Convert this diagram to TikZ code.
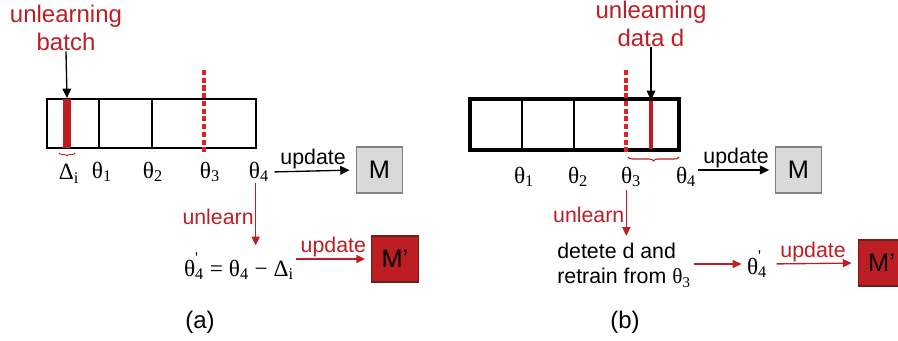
\documentclass[tikz,border=0pt]{standalone}
\usepackage{fontspec}
\setmainfont{Liberation Sans}
\newfontfamily\serfont{Liberation Serif}
\usetikzlibrary{arrows.meta,decorations.pathreplacing}
\definecolor{unred}{RGB}{188,30,36}
\definecolor{cutred}{RGB}{232,30,38}
\definecolor{mgray}{RGB}{217,217,217}
\definecolor{mgrayline}{RGB}{128,128,128}
\definecolor{mredline}{RGB}{110,30,30}
\newcommand{\thsub}[1]{{\serfont θ\textsubscript{#1}}}
\newcommand{\thpr}{{\serfont θ\rlap{\raisebox{0.45ex}{\textsuperscript{'}}}\textsubscript{4}}}

\begin{document}
\begin{tikzpicture}[x=0.75pt,y=0.75pt,yscale=-1,xscale=1,
  toplbl/.style={text=unred,font=\fontsize{18}{21.6}\selectfont,align=center,inner sep=0pt},
  thlbl/.style={font=\serfont\fontsize{17.5}{20}\selectfont,inner sep=1pt},
  updlbl/.style={font=\fontsize{16}{19}\selectfont,inner sep=1pt},
  mbox/.style={minimum width=35pt,minimum height=34.5pt,inner sep=0pt,line width=0.9pt,font=\fontsize{19}{22}\selectfont},
  blkarr/.style={-{Triangle[length=7pt,width=6.5pt]},line width=1pt},
  redarr/.style={unred,-{Triangle[length=6.5pt,width=6pt]},line width=1pt}]
\useasboundingbox (0,0) rectangle (898,341);

%%%%%%%%%%%% (a)
%Text: unlearning batch
\node[toplbl] (ulb) at (66,28) {unlearning\\batch};
\coordinate (hita) at (67,98);
\draw[blkarr] (ulb.south) -- (hita);
%Shape: Rectangle
\draw[line width=1.5pt] (47,99) rectangle (256,148);
\foreach \x in {99,152} {\draw[line width=1.5pt] (\x,99) -- (\x,148);}
%Shape: bar
\fill[unred] (63,99) rectangle (71,148);
%Straight Lines: cut
\draw[cutred,line width=2.6pt,dash pattern=on 3.8pt off 2pt] (204,70) -- (204,152);
%Brace
\draw[unred,line width=0.6pt,decorate,decoration={brace,mirror,amplitude=2.2pt}] (59,153) -- (75,153);
%Labels
\node[thlbl] (dai) at (69,174) {Δ\textsubscript{i}};
\node[thlbl] (ta1) at (102,172) {\thsub{1}};
\node[thlbl] (ta2) at (153,172) {\thsub{2}};
\node[thlbl] (ta3) at (210,172) {\thsub{3}};
\node[thlbl] (ta4) at (259,172) {\thsub{4}};
%Shape: M
\node[mbox,draw=mgrayline,fill=mgray] (ma) at (379.5,170) {M};
\draw[blkarr,shorten <=3pt,shorten >=4.5pt] (ta4.east) -- (ma.west) node[midway,above,updlbl] {update};
%Formula
\node[thlbl] (fa) at (239,266) {\thpr\ = \thsub{4} − Δ\textsubscript{i}};
\node[mbox,draw=mredline,fill=unred] (mpa) at (395,259) {M’};
\coordinate (ua) at ([xshift=-2.5pt]ta4.south);
\draw[redarr,shorten >=4pt] (ua) -- (ua |- fa.north) node[midway,left,updlbl,text=unred] {unlearn};
\draw[redarr,shorten >=4.5pt] (fa.east |- mpa) -- (mpa.west) node[midway,above,updlbl,text=unred] {update};
\node[font=\fontsize{18}{21.6}\selectfont] (capa) at (200,322) {(a)};

%%%%%%%%%%%% (b)
%Text: unleaming data d
\node[toplbl] (uld) at (651,24) {unleaming\\data d};
\coordinate (hitb) at (651,100);
\draw[blkarr] (uld.south) -- (hitb);
%Shape: Rectangle
\draw[line width=3pt] (470,99) rectangle (679,150);
\foreach \x in {522,574} {\draw[line width=1.6pt] (\x,99) -- (\x,150);}
%Straight Lines: cut
\draw[cutred,line width=2.6pt,dash pattern=on 3.8pt off 2pt] (626,70) -- (626,152);
\draw[cutred!85!black,line width=2.3pt] (651,101) -- (651,149);
%Brace
\draw[unred,line width=0.8pt,decorate,decoration={brace,mirror,amplitude=3pt}] (628,157) -- (679,157);
%Labels
\node[thlbl] (tb1) at (524,177) {\thsub{1}};
\node[thlbl] (tb2) at (578,177) {\thsub{2}};
\node[thlbl] (tb3) at (631,177) {\thsub{3}};
\node[thlbl] (tb4) at (686,177) {\thsub{4}};
%Shape: M
\node[mbox,draw=mgrayline,fill=mgray] (mb) at (798.5,170) {M};
\draw[blkarr,shorten >=4pt] (tb4.east |- mb) -- (mb.west) node[midway,above,updlbl] {update};
%Text: retrain
\node[updlbl,align=left,text=black] (dn) at (624,265) {detete d and\\retrain from \thsub{3}};
\coordinate (ub) at ([xshift=-3.5pt]tb3.south);
\draw[redarr,shorten <=1pt,shorten >=4pt] (ub) -- (ub |- dn.north) node[midway,left,updlbl,text=unred] {unlearn};
\node[thlbl] (tpb) at (757,264) {\thpr};
\node[mbox,draw=mredline,fill=unred] (mpb) at (881.5,263) {M’};
\draw[redarr,shorten <=1pt,shorten >=3pt] (dn.east |- tpb) -- (tpb.west);
\draw[redarr,shorten <=6pt,shorten >=4.5pt] (tpb.east) -- (mpb.west) node[midway,above,updlbl,text=unred] {update};
\node[font=\fontsize{18}{21.6}\selectfont] (capb) at (625,322) {(b)};
\end{tikzpicture}
\end{document}
